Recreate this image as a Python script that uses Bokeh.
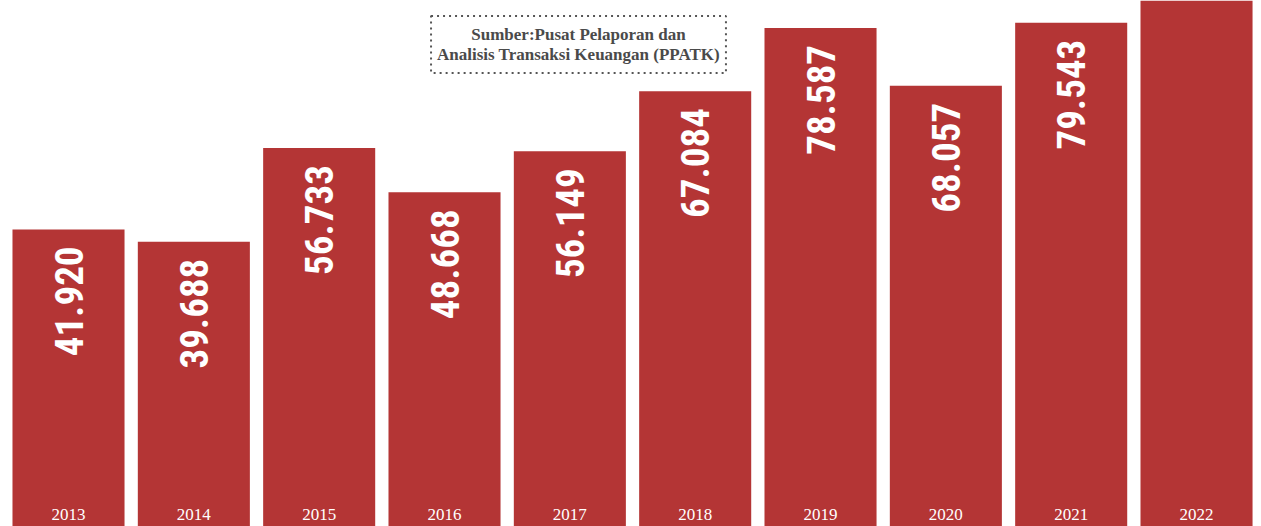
import math
from bokeh.plotting import figure
from bokeh.models import Range1d, Label, ColumnDataSource
from bokeh.core.properties import value
from bokeh.embed import file_html
from bokeh.resources import INLINE

# ---- data ----
years = [2013, 2014, 2015, 2016, 2017, 2018, 2019, 2020, 2021, 2022]
year_labels = ["2013", "2014", "2015", "2016", "2017", "2018", "2019", "2020", "2021", "2022"]
values = [41.920, 39.688, 56.733, 48.668, 56.149, 67.084, 78.587, 68.057, 79.543, 95.0]
value_labels = ["41.920", "39.688", "56.733", "48.668", "56.149", "67.084", "78.587", "68.057", "79.543", ""]
source_text = "Sumber:Pusat Pelaporan dan\nAnalisis Transaksi Keuangan (PPATK)"

BAR_COLOR = "#B43535"
W, H = 1261, 526

y_start, y_end = -12.14, 83.58
x_start = years[0] - 0.5426
x_end = x_start + 10.061

src = ColumnDataSource(dict(
    x=years, top=values, lab=value_labels, yl=year_labels,
    base=[y_start] * len(years),
))

p = figure(width=W, height=H, output_backend="svg", toolbar_location=None,
           x_range=Range1d(x_start, x_end), y_range=Range1d(y_start, y_end),
           min_border=0, outline_line_color=None)
p.axis.visible = False
p.grid.visible = False
p.background_fill_color = "white"
p.border_fill_color = "white"

p.vbar(x="x", top="top", bottom="base", width=0.894, source=src,
       fill_color=BAR_COLOR, line_color=None)

p.text(x="x", y="top", text="lab", source=src, angle=math.pi / 2,
       text_align="right", text_baseline="middle", y_offset=17,
       text_color="white", text_font_size="39px", text_font_style="bold",
       text_font=value("'Roboto Condensed', 'DejaVu Sans Condensed', sans-serif"))

p.text(x="x", y="base", text="yl", source=src,
       text_align="center", text_baseline="middle", y_offset=-12,
       text_color="white", text_font_size="17px",
       text_font=value("Liberation Serif"))

lab = Label(x=578, y=482, x_units="screen", y_units="screen", text=source_text,
            text_align="center", text_baseline="middle",
            text_font="Liberation Serif", text_font_style="bold",
            text_font_size="17px", text_color="#4a4a4a", text_line_height=1.04,
            border_line_color="#555555", border_line_dash="2 4", border_line_width=2,
            background_fill_color="white", padding=(6, 9))
p.add_layout(lab)

open("out.html", "w").write(file_html(p, INLINE))
